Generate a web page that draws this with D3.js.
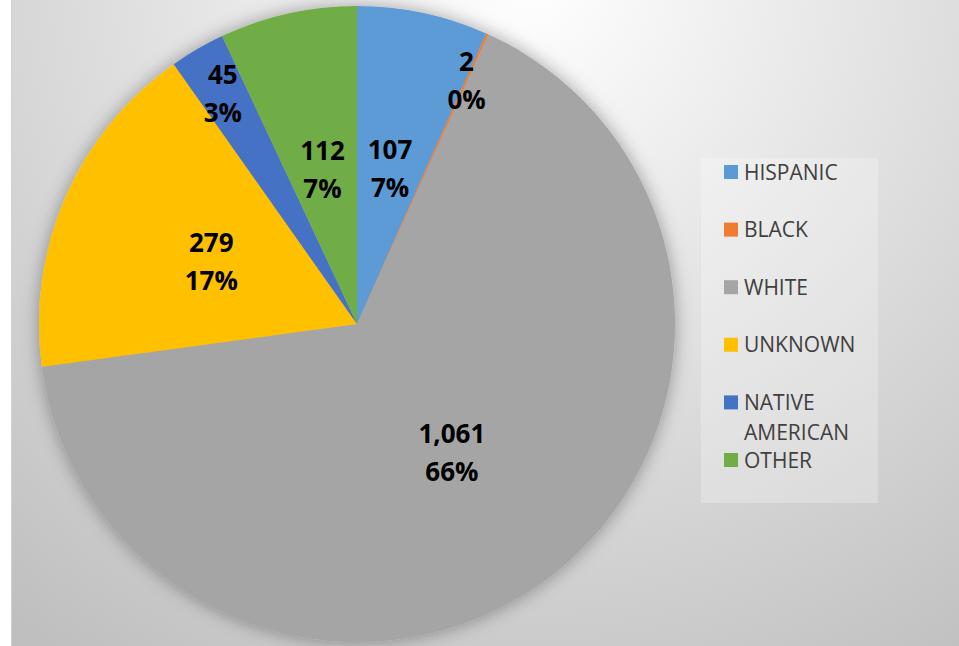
<!DOCTYPE html>
<html>
<head>
<meta charset="utf-8">
<script src="https://cdn.jsdelivr.net/npm/d3@7/dist/d3.min.js"></script>
<style>
  html, body { margin: 0; padding: 0; background: #fff; }
  svg { display: block; }
</style>
</head>
<body>
<div id="chart"></div>
<script>
// data
const categories = ['HISPANIC', 'BLACK', 'WHITE', 'UNKNOWN', 'NATIVE AMERICAN', 'OTHER'];
const counts = [107, 2, 1061, 279, 45, 112];
const sliceColors = ['#5B9BD5', '#ED7D31', '#A5A5A5', '#FFC000', '#4472C4', '#70AD47'];

const width = 959, height = 646;
const cx = 357, cy = 324, radius = 318;
const fontFamily = '"Open Sans", "Noto Sans", sans-serif';

const svg = d3.select('#chart').append('svg')
  .attr('width', width)
  .attr('height', height);

const defs = svg.append('defs');

// soft radial backdrop like the office chart style
const bg = defs.append('radialGradient')
  .attr('id', 'bg-grad')
  .attr('gradientUnits', 'userSpaceOnUse')
  .attr('cx', 530).attr('cy', -20).attr('r', 820);
bg.append('stop').attr('offset', '0%').attr('stop-color', '#ffffff');
bg.append('stop').attr('offset', '100%').attr('stop-color', '#bfbfbf');

const shadow = defs.append('filter')
  .attr('id', 'pie-shadow')
  .attr('x', '-20%').attr('y', '-20%').attr('width', '140%').attr('height', '140%');
shadow.append('feDropShadow')
  .attr('dx', 0).attr('dy', 0)
  .attr('stdDeviation', 9)
  .attr('flood-color', '#000')
  .attr('flood-opacity', 0.35);

svg.append('rect')
  .attr('x', 11).attr('y', 0)
  .attr('width', width - 11).attr('height', height)
  .attr('fill', 'url(#bg-grad)');
svg.append('line')
  .attr('x1', 11.5).attr('x2', 11.5).attr('y1', 0).attr('y2', height)
  .attr('stroke', '#d0d0d0');

const color = d3.scaleOrdinal().domain(categories).range(sliceColors);
const total = d3.sum(counts);

const pie = d3.pie().sort(null).value((d, i) => counts[i]);
const arcs = pie(categories);
const arc = d3.arc().innerRadius(0).outerRadius(radius);

const g = svg.append('g').attr('transform', `translate(${cx},${cy})`);

g.append('g')
  .attr('filter', 'url(#pie-shadow)')
  .selectAll('path')
  .data(arcs)
  .enter()
  .append('path')
  .attr('d', arc)
  .attr('fill', d => color(d.data));

// labels: big slices inside, thin ones pushed out toward the rim (best fit)
const fmt = d3.format(',');
const labels = g.append('g')
  .selectAll('text')
  .data(arcs)
  .enter()
  .append('text')
  .attr('text-anchor', 'middle')
  .attr('font-family', fontFamily)
  .attr('font-weight', 700)
  .attr('font-size', 26)
  .attr('fill', '#000')
  .attr('transform', d => {
    const share = (d.endAngle - d.startAngle) / (2 * Math.PI);
    const r = share < 0.05 ? radius * 0.84 : radius * 0.5;
    const a = (d.startAngle + d.endAngle) / 2;
    return `translate(${Math.sin(a) * r},${-Math.cos(a) * r})`;
  });
labels.append('tspan')
  .attr('x', 0).attr('y', -9)
  .text((d, i) => fmt(counts[i]));
labels.append('tspan')
  .attr('x', 0).attr('y', 29)
  .text((d, i) => Math.round(counts[i] / total * 100) + '%');

// legend
const legend = svg.append('g').attr('transform', 'translate(701,158)');
legend.append('rect')
  .attr('width', 177).attr('height', 345)
  .attr('fill', '#ffffff').attr('fill-opacity', 0.25);

const rowStep = 57.6;
const item = legend.selectAll('g.item')
  .data(categories)
  .enter()
  .append('g')
  .attr('class', 'item')
  .attr('transform', (d, i) => `translate(23,${14 + i * rowStep})`);
item.append('rect')
  .attr('y', -7).attr('width', 14).attr('height', 14)
  .attr('fill', d => color(d));
const itemText = item.append('text')
  .attr('x', 20)
  .attr('y', 7.5)
  .attr('font-family', fontFamily)
  .attr('font-size', 21)
  .attr('fill', '#404040');
// long names wrap onto two lines, the next row keeps its slot
itemText.each(function (d) {
  const words = d.split(' ');
  const t = d3.select(this);
  if (words.length > 1) {
    words.forEach((w, k) => {
      t.append('tspan').attr('x', 20).attr('dy', k === 0 ? 0 : 30).text(w);
    });
  } else {
    t.text(d);
  }
});
</script>
</body>
</html>
